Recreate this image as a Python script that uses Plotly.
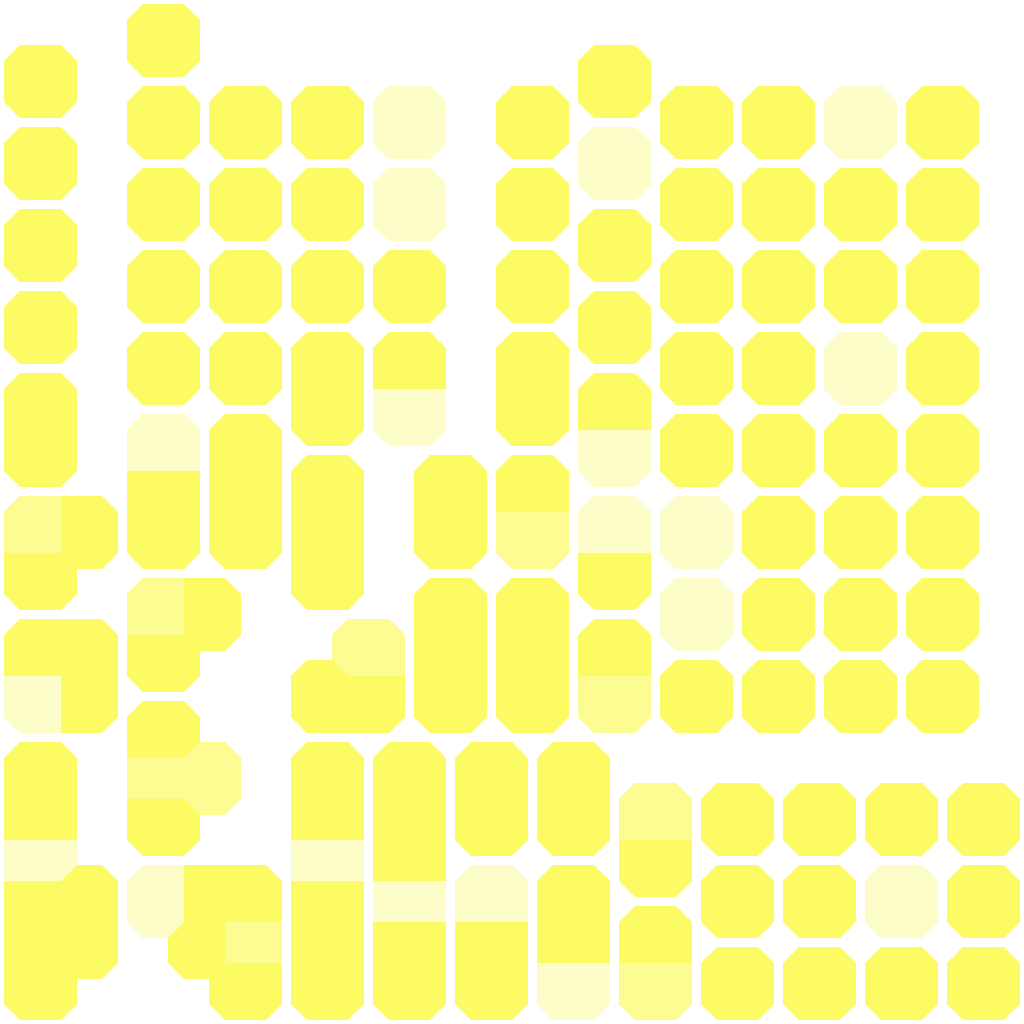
import plotly.graph_objects as go

# ---- data: tiles on a half-step grid (column, row) with a tone level ----
# tone 0 = full yellow, 1 = medium tint, 2 = pale tint
tile_col = [
    0, 0, 0, 0, 0, 0, 0, 0, 0, 0, 0, 0, 0, 0, 0, 0,
    1, 1, 1, 1, 1,
    3, 3, 3, 3, 3, 3, 3, 3, 3, 3, 3, 3, 3, 3,
    4, 4, 4, 4,
    5, 5, 5, 5, 5, 5, 5, 5, 5, 5,
    7, 7, 7, 7, 7, 7, 7, 7, 7, 7, 7, 7, 7, 7, 7,
    8, 8,
    9, 9, 9, 9, 9, 9, 9, 9, 9, 9, 9,
    10, 10, 10, 10, 10,
    11, 11, 11, 11, 11,
    12, 12, 12, 12, 12, 12, 12, 12, 12, 12,
    13, 13, 13, 13, 13,
    14, 14, 14, 14, 14, 14, 14, 14, 14, 14,
    15, 15, 15, 15,
    16, 16, 16, 16, 16, 16, 16, 16,
    17, 17, 17,
    18, 18, 18, 18, 18, 18, 18, 18,
    19, 19, 19,
    20, 20, 20, 20, 20, 20, 20, 20,
    21, 21, 21,
    22, 22, 22, 22, 22, 22, 22, 22,
    23, 23, 23,
]
tile_row = [
    1, 3, 5, 7, 9, 10, 12, 13, 15, 16, 18, 19, 20, 21, 22, 23,
    12, 15, 16, 21, 22,
    0, 2, 4, 6, 8, 10, 11, 12, 14, 15, 17, 18, 19, 21,
    14, 18, 21, 22,
    2, 4, 6, 8, 10, 11, 12, 21, 22, 23,
    2, 4, 6, 8, 9, 11, 12, 13, 16, 18, 19, 20, 21, 22, 23,
    15, 16,
    2, 4, 6, 8, 9, 18, 19, 20, 21, 22, 23,
    11, 12, 14, 15, 16,
    18, 19, 21, 22, 23,
    2, 4, 6, 8, 9, 11, 12, 14, 15, 16,
    18, 19, 21, 22, 23,
    1, 3, 5, 7, 9, 10, 12, 13, 15, 16,
    19, 20, 22, 23,
    2, 4, 6, 8, 10, 12, 14, 16,
    19, 21, 23,
    2, 4, 6, 8, 10, 12, 14, 16,
    19, 21, 23,
    2, 4, 6, 8, 10, 12, 14, 16,
    19, 21, 23,
    2, 4, 6, 8, 10, 12, 14, 16,
    19, 21, 23,
]
tile_tone = [
    0, 0, 0, 0, 0, 0, 1, 0, 0, 2, 0, 0, 2, 0, 0, 0,
    0, 0, 0, 0, 0,
    0, 0, 0, 0, 0, 2, 0, 0, 1, 0, 0, 1, 0, 2,
    0, 1, 0, 0,
    0, 0, 0, 0, 0, 0, 0, 0, 1, 0,
    0, 0, 0, 0, 0, 0, 0, 0, 0, 0, 0, 2, 0, 0, 0,
    1, 0,
    2, 2, 0, 0, 2, 0, 0, 0, 2, 0, 0,
    0, 0, 0, 0, 0,
    0, 0, 2, 0, 0,
    0, 0, 0, 0, 0, 0, 1, 0, 0, 0,
    0, 0, 0, 0, 2,
    0, 2, 0, 0, 0, 2, 2, 0, 0, 1,
    1, 0, 0, 1,
    0, 0, 0, 0, 0, 2, 2, 0,
    0, 0, 0,
    0, 0, 0, 0, 0, 0, 0, 0,
    0, 0, 0,
    2, 0, 0, 2, 0, 0, 0, 0,
    0, 2, 0,
    0, 0, 0, 0, 0, 0, 0, 0,
    0, 0, 0,
]
tone_colors = ["#FCFB63", "#FCFC93", "#FDFDC9"]

# ---- geometry (styling) ----
STEP, ORIGIN, SIZE, CUT = 41, 4, 73, 16


def octagon(c, r):
    x0 = ORIGIN + STEP * c
    y0 = ORIGIN + STEP * r
    s, k = SIZE, CUT
    return [(x0 + k, y0), (x0 + s - k, y0), (x0 + s, y0 + k), (x0 + s, y0 + s - k),
            (x0 + s - k, y0 + s), (x0 + k, y0 + s), (x0, y0 + s - k), (x0, y0 + k)]


def center(c, r):
    return (ORIGIN + STEP * c + SIZE / 2, ORIGIN + STEP * r + SIZE / 2)


def clip(poly, a, b, d):
    # keep points with a*x + b*y <= d
    out = []
    n = len(poly)
    for i in range(n):
        p, q = poly[i], poly[(i + 1) % n]
        fp = a * p[0] + b * p[1] - d
        fq = a * q[0] + b * q[1] - d
        if fp <= 0:
            out.append(p)
        if (fp < 0 < fq) or (fq < 0 < fp):
            t = fp / (fp - fq)
            out.append((p[0] + t * (q[0] - p[0]), p[1] + t * (q[1] - p[1])))
    return out


tiles = list(zip(tile_col, tile_row, tile_tone))
index = {(c, r): i for i, (c, r, _) in enumerate(tiles)}

paths = {0: ([], []), 1: ([], []), 2: ([], [])}


def add(poly, tone):
    xs, ys = paths[tone]
    for (x, y) in poly:
        xs.append(x)
        ys.append(y)
    xs.append(poly[0][0])
    ys.append(poly[0][1])
    xs.append(None)
    ys.append(None)


# full tiles
for c, r, t in tiles:
    add(octagon(c, r), 0)

# tinted regions: each tile owns the part of its octagon nearest its centre
for c, r, t in tiles:
    if t == 0:
        continue
    poly = octagon(c, r)
    cx, cy = center(c, r)
    for dc in (-1, 0, 1):
        for dr in (-1, 0, 1):
            if (dc, dr) == (0, 0) or (c + dc, r + dr) not in index:
                continue
            nx, ny = center(c + dc, r + dr)
            a, b = nx - cx, ny - cy
            d = a * (cx + nx) / 2 + b * (cy + ny) / 2
            poly = clip(poly, a, b, d)
            if not poly:
                break
    if len(poly) >= 3:
        add(poly, t)

fig = go.Figure()
for tone in (0, 1, 2):
    xs, ys = paths[tone]
    if not xs:
        continue
    fig.add_trace(go.Scatter(
        x=xs, y=ys, mode="lines", fill="toself",
        fillcolor=tone_colors[tone], line=dict(width=0, color=tone_colors[tone]),
        hoverinfo="skip", showlegend=False,
    ))

fig.update_layout(
    width=1024, height=1024,
    margin=dict(l=0, r=0, t=0, b=0),
    paper_bgcolor="white", plot_bgcolor="white",
    xaxis=dict(range=[0, 1024], visible=False, fixedrange=True),
    yaxis=dict(range=[1024, 0], visible=False, fixedrange=True),
    showlegend=False,
)

fig.write_html("out.html", config={"displayModeBar": False},
               post_script="document.body.style.margin='0';document.body.style.overflow='hidden';")
